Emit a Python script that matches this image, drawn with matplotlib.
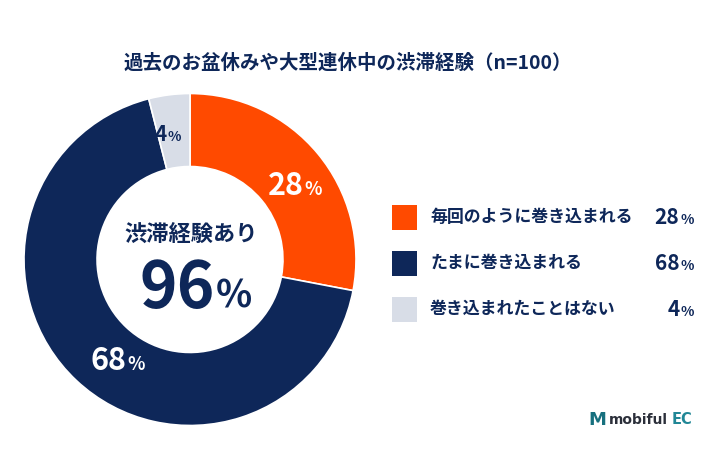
import matplotlib
matplotlib.use("Agg")
import matplotlib.pyplot as plt

plt.rcParams['font.family'] = ['Noto Sans CJK JP', 'DejaVu Sans']

title = "過去のお盆休みや大型連休中の渋滞経験（n=100）"
categories = ["毎回のように巻き込まれる", "たまに巻き込まれる", "巻き込まれたことはない"]
values = [28, 68, 4]
total_label = "渋滞経験あり"
total_value = 96

colors = ["#FF4A00", "#0E2759", "#D8DDE7"]
navy = "#0E2759"

W, H = 710, 474
fig = plt.figure(figsize=(W / 100, H / 100), dpi=100)
fig.patch.set_facecolor("white")
renderer = fig.canvas.get_renderer()


def fx(x):
    return x / W


def fy(y):
    return 1 - y / H


def pct_text(x, y, num, size, color, pct_size=None, ha="center"):
    # number with a smaller % sign, positioned in pixels
    if pct_size is None:
        pct_size = size * 0.55
    t1 = fig.text(0, 0, str(num), fontsize=size, fontweight="bold", color=color)
    t2 = fig.text(0, 0, "%", fontsize=pct_size, fontweight="bold", color=color)
    w1 = t1.get_window_extent(renderer).width
    w2 = t2.get_window_extent(renderer).width
    gap = 1
    if ha == "center":
        left = x - (w1 + w2 + gap) / 2
    elif ha == "right":
        left = x - (w1 + w2 + gap)
    else:
        left = x
    t1.set_position((fx(left), fy(y)))
    t1.set_va("baseline")
    t2.set_position((fx(left + w1 + gap), fy(y)))
    t2.set_va("baseline")


# donut
cx, cy, rad = 190, 259.5, 166
ax = fig.add_axes([fx(cx - rad), fy(cy + rad), 2 * rad / W, 2 * rad / H])
ax.pie(values, colors=colors, startangle=90, counterclock=False, radius=1,
       wedgeprops=dict(width=0.44, edgecolor="white", linewidth=1.2))
ax.set_xlim(-1, 1)
ax.set_ylim(-1, 1)
ax.set_aspect("equal")
ax.axis("off")

# title
fig.text(fx(348), fy(63), title, ha="center", va="center", fontsize=14,
         fontweight="bold", color=navy)

# slice labels
pct_text(295, 195, values[0], 22, "white", 13)
pct_text(118, 370, values[1], 22, "white", 13)
pct_text(168, 141, values[2], 15, navy, 10)

# center text
fig.text(fx(191), fy(234), total_label, ha="center", va="center", fontsize=16,
         fontweight="bold", color=navy)
pct_text(196, 308, total_value, 46, navy, 27)

# legend
rows_y = [217, 263, 309]
for cat, val, col, y in zip(categories, values, colors, rows_y):
    fig.patches.append(plt.Rectangle((fx(392), fy(y + 12.5)), 25 / W, 25 / H,
                                     transform=fig.transFigure, facecolor=col,
                                     edgecolor="none"))
    fig.text(fx(430), fy(y), cat, ha="left", va="center", fontsize=12.2,
             fontweight="bold", color=navy)
    pct_text(694, y + 7.5, val, 15, navy, 10, ha="right")

# logo
x = 588
for s, size, col, gap in [("M", 13, "#17707E", 3), ("mobiful", 10, "#2B2F3A", 4),
                          ("EC", 10.5, "#218796", 0)]:
    t = fig.text(fx(x), fy(420), s, ha="left", va="center", fontsize=size,
                 fontweight="bold", color=col, family="DejaVu Sans")
    x += t.get_window_extent(renderer).width + gap

fig.savefig("out.png", dpi=100, facecolor="white")
